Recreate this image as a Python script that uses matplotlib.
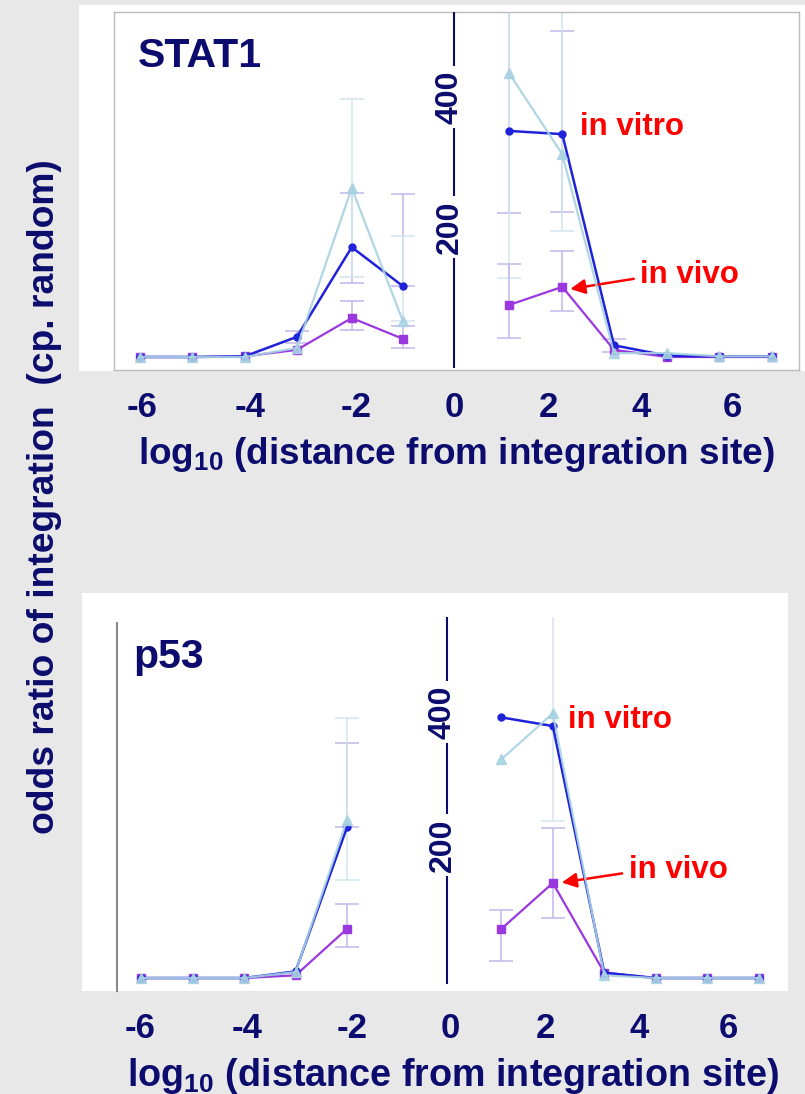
import numpy as np
import matplotlib.pyplot as plt
from matplotlib.patches import Rectangle

plt.rcParams['font.family'] = ['Liberation Sans', 'DejaVu Sans']
plt.rcParams['font.weight'] = 'bold'
plt.rcParams['mathtext.fontset'] = 'custom'
plt.rcParams['mathtext.rm'] = 'Liberation Sans:bold'
plt.rcParams['mathtext.it'] = 'Liberation Sans:bold'
plt.rcParams['mathtext.bf'] = 'Liberation Sans:bold'

nan = np.nan

# ---- STAT1 panel ----
stat1_x_left = [-6, -5, -4, -3, -1.95, -0.97]
stat1_x_right = [1.06, 2.08, 3.07, 4.09, 5.08, 6.1]
stat1_vitro_left = [0, 0, 1, 31, 169, 109]
stat1_vitro_right = [348, 343, 18, 2, 1, 1]
stat1_vitro2_left = [0, 0, 0, 14, 260, 55]
stat1_vitro2_right = [437, 312, 6, 6, 1, 1]
stat1_vivo_left = [0, 0, 1, 11, 60, 28]
stat1_vivo_right = [80, 108, 11, 0, 0, 0]
# error bar ends (low, high), nan = none
stat1_vitro_lo = [nan, nan, nan, 22, 114, nan, 222, 223, 8, nan, nan, nan]
stat1_vitro_hi = [nan, nan, nan, 40, 252, 251, 620, 502, 28, nan, nan, nan]
stat1_vitro2_lo = [nan, nan, nan, nan, 123, nan, 122, 194, nan, nan, nan, nan]
stat1_vitro2_hi = [nan, nan, nan, nan, 397, 186, 650, 531, nan, nan, nan, nan]
stat1_vivo_lo = [nan, nan, nan, nan, 42, 14, 29, 71, nan, nan, nan, nan]
stat1_vivo_hi = [nan, nan, nan, nan, 86, 48, 143, 163, nan, nan, nan, nan]

# ---- p53 panel ----
p53_x_left = [-6, -5, -4, -3, -2]
p53_x_right = [1, 2, 3, 4, 5, 6]
p53_vitro_left = [0, 0, 0, 10, 227]
p53_vitro_right = [392, 379, 8, 0, 0, 0]
p53_vitro2_left = [0, 0, 0, 9, 238]
p53_vitro2_right = [329, 398, 4, 0, 0, 0]
p53_vivo_left = [0, 0, 0, 4, 74]
p53_vivo_right = [74, 143, 8, 0, 0, 0]
p53_vitro_lo = [nan, nan, nan, nan, nan, nan, nan, nan, nan, nan, nan]
p53_vitro_hi = [nan, nan, nan, nan, 353, nan, nan, nan, nan, nan, nan]
p53_vitro2_lo = [nan, nan, nan, nan, 147, nan, 236, nan, nan, nan, nan]
p53_vitro2_hi = [nan, nan, nan, nan, 391, nan, 600, nan, nan, nan, nan]
p53_vivo_lo = [nan, nan, nan, nan, 47, 26, 90, nan, nan, nan, nan]
p53_vivo_hi = [nan, nan, nan, nan, 111, 102, 226, nan, nan, nan, nan]

tick_labels = ['-6', '-4', '-2', '0', '2', '4', '6']
stat1_tick_pos = [-5.96, -3.89, -1.86, 0.01, 1.81, 3.59, 5.33]
p53_tick_pos = [-6.03, -3.94, -1.9, 0.0, 1.85, 3.67, 5.42]
y_tick_vals = [200, 400]

navy = '#0c0c6e'
c_vitro = '#1f22d8'
c_vitro2 = '#a8d2e2'
c_vivo = '#9a38e0'
c_err = '#c4b6ea'
c_err2 = '#d2e6ee'
bg = '#e8e8e8'

W, H = 805, 1094
fig = plt.figure(figsize=(W / 100, H / 100), dpi=100, facecolor=bg)

# white slide panels
fig.patches.append(Rectangle((79 / W, 1 - 371 / H), 726 / W, 366 / H, transform=fig.transFigure,
                             facecolor='white', edgecolor='none', zorder=-1))
fig.patches.append(Rectangle((82 / W, 1 - 991 / H), 706 / W, 398 / H, transform=fig.transFigure,
                             facecolor='white', edgecolor='none', zorder=-1))

ax1 = fig.add_axes([114 / W, 1 - 370 / H, 685 / W, 358 / H], zorder=2)
ax2 = fig.add_axes([117 / W, 1 - 991 / H, 671 / W, 374 / H], zorder=2)


def draw_err(ax, x, y, lo, hi, color):
    x = np.asarray(x, float)
    y = np.asarray(y, float)
    lo = np.asarray(lo, float)
    hi = np.asarray(hi, float)
    m = ~(np.isnan(lo) & np.isnan(hi))
    lo = np.where(np.isnan(lo), y, lo)
    hi = np.where(np.isnan(hi), y, hi)
    ax.errorbar(x[m], y[m], yerr=[y[m] - lo[m], hi[m] - y[m]], fmt='none', ecolor=color,
                elinewidth=1.1, capsize=8.5, capthick=1.1, zorder=1)


def draw_panel(ax, xl, xr, vitro, vitro2, vivo, errs):
    x_all = list(xl) + list(xr)
    for (lo, hi), yv, col in zip(errs, [vitro, vitro2, vivo], [c_err, c_err2, c_err]):
        y_all = list(yv[0]) + list(yv[1])
        draw_err(ax, x_all, y_all, lo, hi, col)
    for xs, i in [(xl, 0), (xr, 1)]:
        ax.plot(xs, vivo[i], color=c_vivo, lw=1.6, marker='s', ms=5.5, zorder=2)
        ax.plot(xs, vitro[i], color=c_vitro, lw=1.8, marker='o', ms=5, zorder=3)
        ax.plot(xs, vitro2[i], color=c_vitro2, lw=1.6, marker='^', ms=6.5, zorder=4, alpha=0.9)


draw_panel(ax1, stat1_x_left, stat1_x_right,
           (stat1_vitro_left, stat1_vitro_right),
           (stat1_vitro2_left, stat1_vitro2_right),
           (stat1_vivo_left, stat1_vivo_right),
           [(stat1_vitro_lo, stat1_vitro_hi), (stat1_vitro2_lo, stat1_vitro2_hi),
            (stat1_vivo_lo, stat1_vivo_hi)])
draw_panel(ax2, p53_x_left, p53_x_right,
           (p53_vitro_left, p53_vitro_right),
           (p53_vitro2_left, p53_vitro2_right),
           (p53_vivo_left, p53_vivo_right),
           [(p53_vitro_lo, p53_vitro_hi), (p53_vitro2_lo, p53_vitro2_hi),
            (p53_vivo_lo, p53_vivo_hi)])

ax1.set_xlim(-6.5, 6.61)
ax1.set_ylim(-20, 531)
ax2.set_xlim(-6.47, 6.57)
ax2.set_ylim(-19.5, 543)

for ax, ticks, fs in [(ax1, stat1_tick_pos, 26.6), (ax2, p53_tick_pos, 27.2)]:
    ax.set_facecolor('none')
    ax.set_yticks([])
    ax.set_xticks(ticks)
    ax.set_xticklabels(tick_labels, fontsize=25, color=navy, fontweight='bold')
    ax.tick_params(axis='x', length=0, pad=15)
    ax.set_xlabel('log$_{10}$ (distance from integration site)', fontsize=fs,
                  color=navy, fontweight='bold', labelpad=8)

for s in ax1.spines.values():
    s.set_color('#bcbcbc')
    s.set_linewidth(1.0)
for k in ['top', 'right', 'bottom']:
    ax2.spines[k].set_visible(False)
ax2.spines['left'].set_color('#8a8a8a')
ax2.spines['left'].set_linewidth(1.5)
ax2.spines['left'].set_bounds(-19.5, 534)

# central y axis with rotated labels
for ax, x0, lo, hi in [(ax1, 0.0, 0.008, 0.997), (ax2, -0.06, 0.021, 1.0)]:
    ax.axvline(x0, ymin=lo, ymax=hi, color=navy, lw=1.5, zorder=5)
    for v in y_tick_vals:
        ax.text(x0 - 0.08, v, str(v), rotation=90, ha='center', va='center', fontsize=23,
                color=navy, fontweight='bold', zorder=6,
                bbox=dict(facecolor='white', edgecolor='none', pad=3))

ax1.text(0.035, 0.846, 'STAT1', transform=ax1.transAxes, fontsize=29.5, color=navy,
         fontweight='bold', va='baseline', ha='left')
ax2.text(0.024, 0.864, 'p53', transform=ax2.transAxes, fontsize=29.5, color=navy,
         fontweight='bold', va='baseline', ha='left')

# annotations
ax1.text(2.42, 341, 'in vitro', color='red', fontsize=22.5, fontweight='bold', va='baseline')
ax1.text(3.57, 114, 'in vivo', color='red', fontsize=22.5, fontweight='bold', va='baseline')
ax1.annotate('', xy=(stat1_x_right[1] + 0.1, stat1_vivo_right[1] - 4), xytext=(3.5, 121),
             arrowprops=dict(arrowstyle='-|>', color='red', lw=1.8, mutation_scale=22))
ax2.text(2.29, 376, 'in vitro', color='red', fontsize=22.5, fontweight='bold', va='baseline')
ax2.text(3.48, 150, 'in vivo', color='red', fontsize=22.5, fontweight='bold', va='baseline')
ax2.annotate('', xy=(p53_x_right[1] + 0.12, p53_vivo_right[1]), xytext=(3.4, 158),
             arrowprops=dict(arrowstyle='-|>', color='red', lw=1.8, mutation_scale=22))

fig.text(45 / W, 1 - 497 / H, 'odds ratio of integration  (cp. random)', rotation=90,
         ha='center', va='center', fontsize=26.8, color=navy, fontweight='bold')

fig.savefig('out.png', dpi=100, facecolor=bg)
